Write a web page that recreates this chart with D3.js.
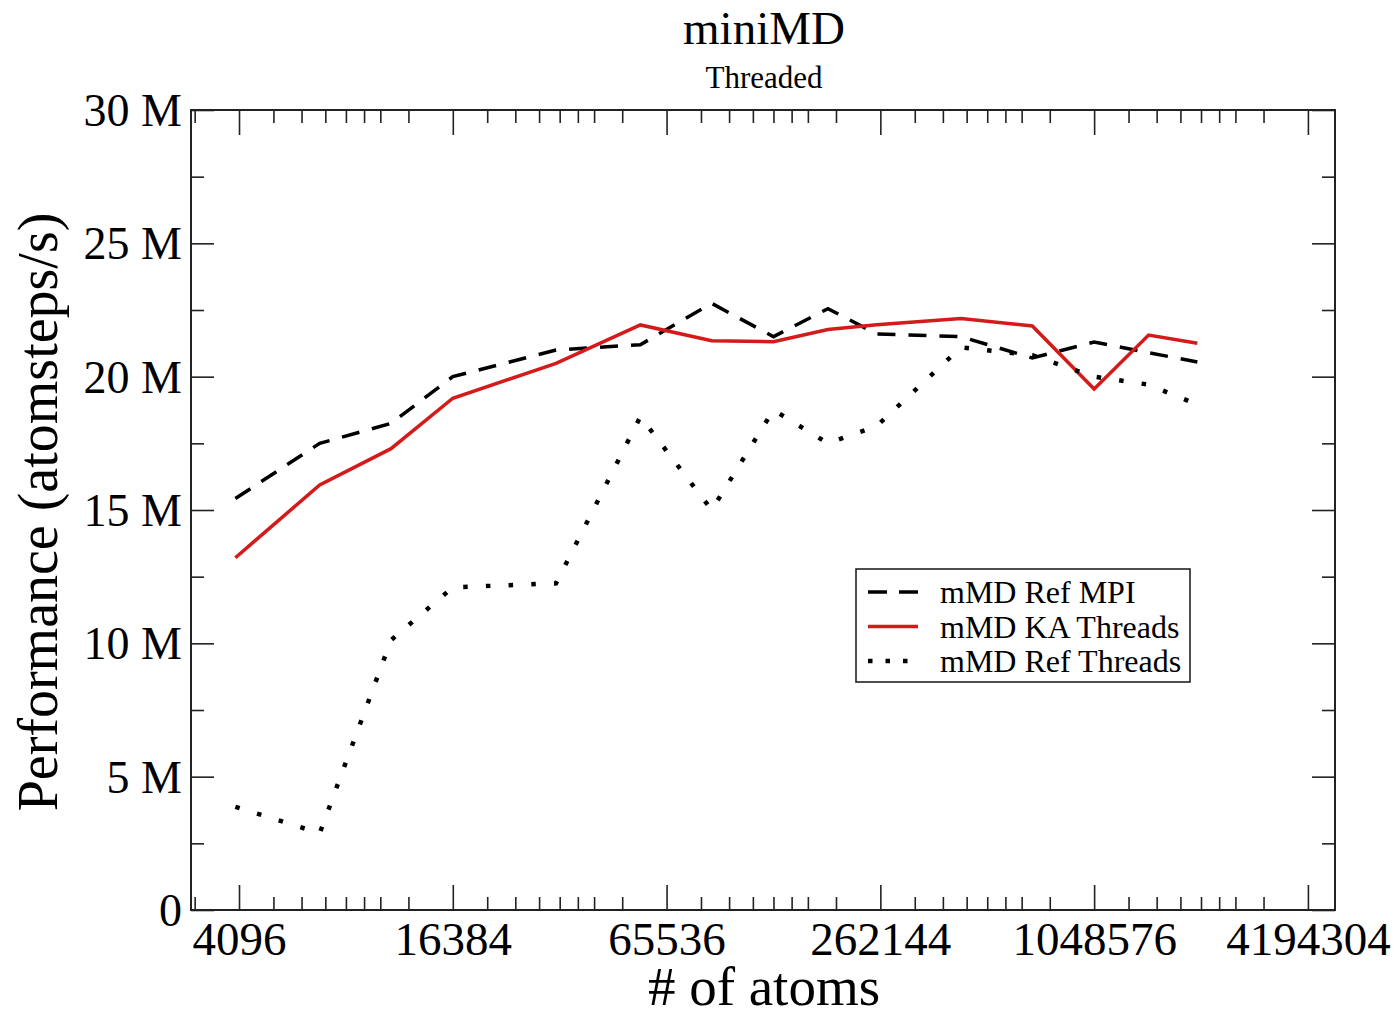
<!DOCTYPE html>
<html>
<head>
<meta charset="utf-8">
<script src="https://cdn.jsdelivr.net/npm/d3@7"></script>
<style>
  body { margin: 0; background: #fff; }
  svg text { font-family: 'Liberation Serif', 'DejaVu Serif', serif; fill: #000; }
  .domain { display: none; }
</style>
</head>
<body>
<svg id="chart" width="1400" height="1017"></svg>
<script>
// miniMD problem sizes: 4 * s^3 atoms
const atomCounts = [4000, 6912, 10976, 16384, 32000, 55296, 87808, 131072, 186624, 256000, 442368, 702464, 1048576, 1492992, 2048000];

// performance in millions of atomsteps per second
const refMpi = [15.43, 17.5, 18.25, 20.0, 21.0, 21.2, 22.75, 21.5, 22.55, 21.6, 21.5, 20.7, 21.3, 20.9, 20.55];
const kaThreads = [13.21, 15.94, 17.3, 19.19, 20.5, 21.94, 21.35, 21.31, 21.77, 21.95, 22.18, 21.9, 19.54, 21.56, 21.25];
const refThreads = [3.87, 2.88, 10.12, 12.1, 12.25, 18.5, 15.0, 18.75, 17.5, 18.15, 21.1, 20.8, 20.0, 19.7, 18.95];

const xMajorTicks = [4096, 16384, 65536, 262144, 1048576, 4194304];
const xMinorFactors = [1.25, 1.5, 1.75, 2, 2.25, 2.5, 3];
const yMajorTicks = [0, 5, 10, 15, 20, 25, 30];
const yMinorTicks = [2.5, 7.5, 12.5, 17.5, 22.5, 27.5];

const series = [
  { name: 'mMD Ref MPI', values: refMpi, color: '#000', dash: '18,13', legendDash: '19,12', width: 3.5 },
  { name: 'mMD KA Threads', values: kaThreads, color: '#d41a1a', dash: null, legendDash: null, width: 3.5 },
  { name: 'mMD Ref Threads', values: refThreads, color: '#000', dash: '4.5,18.2', legendDash: '4.5,13', width: 4.5 },
];

const margin = { top: 110, right: 65, bottom: 107, left: 191 };
const width = 1400 - margin.left - margin.right;
const height = 1017 - margin.top - margin.bottom;

const svg = d3.select('#chart');
const chart = svg.append('g').attr('transform', `translate(${margin.left}, ${margin.top})`);

const xScale = d3.scaleLog().base(2).domain([3000, 5000000]).range([0, width]);
const yScale = d3.scaleLinear().domain([0, 30]).range([height, 0]);

const xMinorTicks = [1024, ...xMajorTicks]
  .flatMap((m) => xMinorFactors.map((f) => m * f))
  .filter((v) => v > 3000 && v < 5000000);

// ticks on all four sides, pointing inward
function tickAxes() {
  const bottomMajor = d3.axisBottom(xScale).tickValues(xMajorTicks).tickSize(-25).tickPadding(12)
    .tickFormat(d3.format('d'));
  const bottomMinor = d3.axisBottom(xScale).tickValues(xMinorTicks).tickSize(-13).tickFormat('');
  const topMajor = d3.axisTop(xScale).tickValues(xMajorTicks).tickSize(-25).tickFormat('');
  const topMinor = d3.axisTop(xScale).tickValues(xMinorTicks).tickSize(-13).tickFormat('');

  const leftMajor = d3.axisLeft(yScale).tickValues(yMajorTicks).tickSize(-23).tickPadding(9)
    .tickFormat((d) => (d === 0 ? '0' : `${d} M`));
  const leftMinor = d3.axisLeft(yScale).tickValues(yMinorTicks).tickSize(-13).tickFormat('');
  const rightMajor = d3.axisRight(yScale).tickValues(yMajorTicks).tickSize(-23).tickFormat('');
  const rightMinor = d3.axisRight(yScale).tickValues(yMinorTicks).tickSize(-13).tickFormat('');

  const xb = chart.append('g').attr('transform', `translate(0, ${height})`);
  xb.append('g').call(bottomMinor);
  const xLabels = xb.append('g').call(bottomMajor);
  xLabels.selectAll('text').attr('font-size', 47).attr('dy', '0.71em');

  const xt = chart.append('g');
  xt.append('g').call(topMinor);
  xt.append('g').call(topMajor);

  const yl = chart.append('g');
  yl.append('g').call(leftMinor);
  const yLabels = yl.append('g').call(leftMajor);
  yLabels.selectAll('text').attr('font-size', 46).attr('dy', '0.34em');

  const yr = chart.append('g').attr('transform', `translate(${width}, 0)`);
  yr.append('g').call(rightMinor);
  yr.append('g').call(rightMajor);

  chart.selectAll('.tick line').attr('stroke', '#222').attr('stroke-width', 1.6);
  chart.selectAll('.tick text').style('font-family', "'Liberation Serif', serif");
}

tickAxes();

// frame
chart.append('rect')
  .attr('width', width).attr('height', height)
  .attr('fill', 'none').attr('stroke', '#222').attr('stroke-width', 2);

// series lines
const line = d3.line()
  .x((d) => xScale(d[0]))
  .y((d) => yScale(d[1]));

series.forEach((s) => {
  chart.append('path')
    .datum(atomCounts.map((n, i) => [n, s.values[i]]))
    .attr('d', line)
    .attr('fill', 'none')
    .attr('stroke', s.color)
    .attr('stroke-width', s.width)
    .attr('stroke-dasharray', s.dash)
    .attr('stroke-linejoin', 'miter');
});

// legend
const legend = svg.append('g').attr('transform', 'translate(856, 569)');
legend.append('rect')
  .attr('width', 334).attr('height', 113)
  .attr('fill', '#fff').attr('stroke', '#222').attr('stroke-width', 1.6);

series.forEach((s, i) => {
  const y = 23 + i * 34.5;
  legend.append('line')
    .attr('x1', 12).attr('x2', 62).attr('y1', y).attr('y2', y)
    .attr('stroke', s.color)
    .attr('stroke-width', s.width)
    .attr('stroke-dasharray', s.legendDash);
  legend.append('text')
    .attr('x', 84).attr('y', y + 11)
    .attr('font-size', 32)
    .text(s.name);
});

// titles
svg.append('text')
  .attr('x', 764).attr('y', 44)
  .attr('text-anchor', 'middle').attr('font-size', 47)
  .text('miniMD');

svg.append('text')
  .attr('x', 764).attr('y', 88)
  .attr('text-anchor', 'middle').attr('font-size', 31)
  .text('Threaded');

svg.append('text')
  .attr('x', 764).attr('y', 1005)
  .attr('text-anchor', 'middle').attr('font-size', 55)
  .text('# of atoms');

svg.append('text')
  .attr('transform', 'translate(57, 512) rotate(-90)')
  .attr('text-anchor', 'middle').attr('font-size', 56)
  .text('Performance (atomsteps/s)');
</script>
</body>
</html>
